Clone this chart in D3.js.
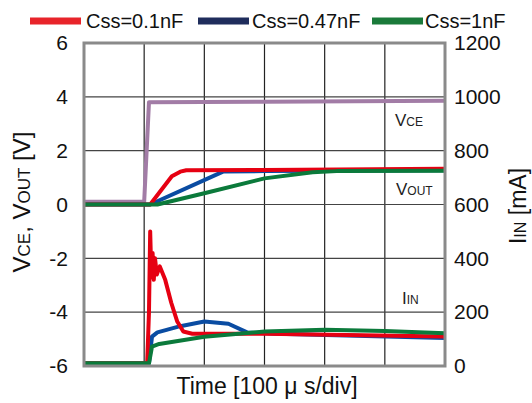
<!DOCTYPE html>
<html><head><meta charset="utf-8">
<script src="https://cdn.jsdelivr.net/npm/d3@7"></script>
<style>body{margin:0;background:#fff}svg{display:block;font-family:"Liberation Sans",Arial,sans-serif}</style>
</head><body><div id="c"></div>
<script>
const W=532,H=403;
const seriesNames=["Css=0.1nF","Css=0.47nF","Css=1nF"];
const seriesColors=["#e60012","#0a4ca2","#0b7a3b"];
const legendColors=["#e8242a","#1f2d5c","#1a7a3a"];
const leftTicks=[-6,-4,-2,0,2,4,6];
const rightTicks=[0,200,400,600,800,1000,1200];
// x in divisions (100us/div), voltages in V
const vce=[[0,0.1],[1.0,0.1],[1.08,3.8],[3,3.82],[6,3.85]];
const voutRed=[[0,0],[1.1,0],[1.46,1.05],[1.6,1.22],[1.7,1.27],[3,1.28],[6,1.33]];
const voutBlue=[[0,0],[1.1,0],[2.32,1.23],[3,1.24],[6,1.27]];
const voutGreen=[[0,0],[1.22,0],[2,0.42],[3,0.97],[3.8,1.2],[4.2,1.24],[6,1.25]];
// currents in mA
const iinRed=[[0,10],[1.05,10],[1.08,200],[1.1,500],[1.12,330],[1.14,420],[1.16,320],[1.18,400],[1.21,340],[1.26,370],[1.35,320],[1.45,235],[1.55,165],[1.65,128],[1.8,120],[3,120],[6,110]];
const iinBlue=[[0,10],[1.08,10],[1.13,109],[1.22,125],[1.6,148],[2.0,165],[2.4,157],[2.72,124],[3.2,120],[6,104]];
const iinGreen=[[0,10],[1.08,10],[1.13,72],[1.25,82],[2,109],[3,128],[4,135],[5,130],[6,122]];

const svg=d3.select("#c").append("svg").attr("width",W).attr("height",H);
const x=d3.scaleLinear().domain([0,6]).range([84,445]);
const yL=d3.scaleLinear().domain([-6,6]).range([366,43]);
const yR=d3.scaleLinear().domain([0,1200]).range([366,43]);

// grid
svg.append("g").selectAll("line").data([1,2,3,4,5]).join("line")
 .attr("x1",d=>x(d)).attr("x2",d=>x(d)).attr("y1",yL(6)).attr("y2",yL(-6))
 .attr("stroke","#222").attr("stroke-width",1.2);
svg.append("g").selectAll("line").data([-4,-2,0,2,4]).join("line")
 .attr("y1",d=>yL(d)).attr("y2",d=>yL(d)).attr("x1",x(0)).attr("x2",x(6))
 .attr("stroke","#444").attr("stroke-width",1.2);

const lineL=d3.line().x(d=>x(d[0])).y(d=>yL(d[1]));
const lineR=d3.line().x(d=>x(d[0])).y(d=>yR(d[1]));
const draw=(data,gen,col)=>svg.append("path").datum(data).attr("d",gen).attr("fill","none")
 .attr("stroke",col).attr("stroke-width",4).attr("stroke-linejoin","round");
draw(vce,lineL,"#a27ca6");
draw(voutBlue,lineL,seriesColors[1]);
draw(voutRed,lineL,seriesColors[0]);
draw(voutGreen,lineL,seriesColors[2]);
draw(iinBlue,lineR,seriesColors[1]);
draw(iinRed,lineR,seriesColors[0]);
draw(iinGreen,lineR,seriesColors[2]);

// frame
svg.append("rect").attr("x",x(0)).attr("y",yL(6)).attr("width",x(6)-x(0)).attr("height",yL(-6)-yL(6))
 .attr("fill","none").attr("stroke","#8a8a8a").attr("stroke-width",3);

// axes (labels only)
const fmt=d=>String(d);
const axL=d3.axisLeft(yL).tickValues(leftTicks).tickFormat(fmt).tickSize(0).tickPadding(16);
const gL=svg.append("g").attr("transform",`translate(${x(0)},0)`).call(axL);
const axR=d3.axisRight(yR).tickValues(rightTicks).tickFormat(fmt).tickSize(0).tickPadding(9);
const gR=svg.append("g").attr("transform",`translate(${x(6)},0)`).call(axR);
[gL,gR].forEach(g=>{g.select(".domain").remove();g.selectAll("text").attr("font-size",21).attr("fill","#111").attr("font-family","Liberation Sans, Arial, sans-serif");});

// axis titles
const lt=svg.append("text").attr("transform","translate(30,202) rotate(-90)").attr("text-anchor","middle")
 .attr("font-size",24).attr("fill","#111");
lt.append("tspan").text("V");lt.append("tspan").attr("font-size",17).text("CE");
lt.append("tspan").text(", V");lt.append("tspan").attr("font-size",17).text("OUT");lt.append("tspan").text(" [V]");
const rt=svg.append("text").attr("transform","translate(526,206) rotate(-90)").attr("text-anchor","middle")
 .attr("font-size",23).attr("fill","#111");
rt.append("tspan").text("I");rt.append("tspan").attr("font-size",16).text("IN");rt.append("tspan").text(" [mA]");
svg.append("text").attr("x",267).attr("y",394).attr("text-anchor","middle").attr("font-size",23).attr("fill","#111")
 .text("Time [100 \u03bc s/div]");

// annotations
const ann=(tx,ty,a,b)=>{const t=svg.append("text").attr("x",tx).attr("y",ty).attr("font-size",17).attr("fill","#222");
 t.append("tspan").text(a);t.append("tspan").attr("font-size",12).text(b);};
ann(395,126,"V","CE");
ann(396,195,"V","OUT");
ann(402,304,"I","IN");

// legend
const lx=[30,198,372],tx=[86,252,425];
seriesNames.forEach((n,i)=>{
 svg.append("line").attr("x1",lx[i]).attr("x2",lx[i]+51).attr("y1",21).attr("y2",21)
  .attr("stroke",legendColors[i]).attr("stroke-width",7);
 svg.append("text").attr("x",tx[i]).attr("y",28).attr("font-size",20).attr("fill","#111").text(n);
});
</script></body></html>
